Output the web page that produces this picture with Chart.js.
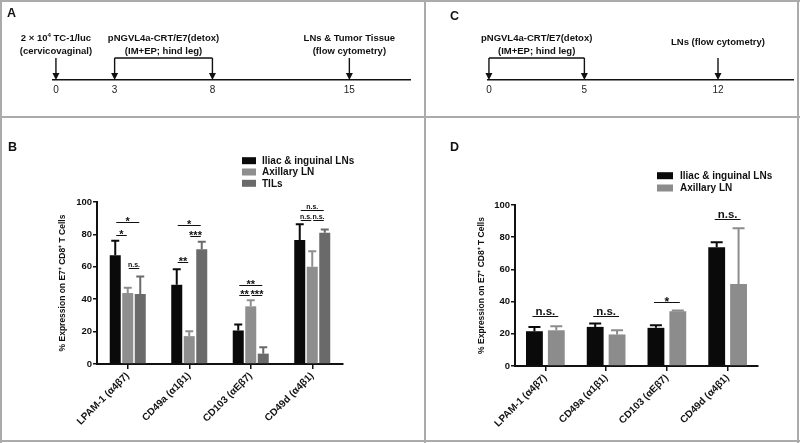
<!DOCTYPE html>
<html>
<head>
<meta charset="utf-8">
<script src="https://cdn.jsdelivr.net/npm/chart.js@4.4.1/dist/chart.umd.min.js"></script>
<style>
  html, body { margin: 0; padding: 0; background: #fff; }
  #fig { position: relative; width: 800px; height: 443px; overflow: hidden; font-family: 'Liberation Sans', Arial, sans-serif; }
  #fig canvas { position: absolute; }
  .rule { position: absolute; background: #ababab; z-index: 2; }
  .tag { position: absolute; font-weight: bold; font-size: 12.5px; line-height: 1; color: #111; }
</style>
</head>
<body>
<div id="fig">
  <canvas id="panelA" width="424" height="116" style="left:0;top:0"></canvas>
  <canvas id="panelC" width="375" height="116" style="left:425px;top:0"></canvas>
  <canvas id="panelB" width="425" height="324" style="left:0;top:117px"></canvas>
  <canvas id="panelD" width="375" height="324" style="left:425px;top:117px"></canvas>

  <div class="rule" style="left:0;top:0;width:800px;height:2px"></div>
  <div class="rule" style="left:0;top:440px;width:800px;height:2px"></div>
  <div class="rule" style="left:0;top:0;width:2px;height:443px"></div>
  <div class="rule" style="left:797px;top:0;width:2px;height:443px"></div>
  <div class="rule" style="left:0;top:116px;width:800px;height:2px"></div>
  <div class="rule" style="left:424px;top:0;width:2px;height:443px"></div>

  <div class="tag" style="left:7px;top:6.5px">A</div>
  <div class="tag" style="left:450px;top:10px">C</div>
  <div class="tag" style="left:8px;top:141px">B</div>
  <div class="tag" style="left:450px;top:141px">D</div>
</div>
<script>
const FONT = "'Liberation Sans', Arial, sans-serif";
Chart.defaults.font.family = FONT;
Chart.defaults.color = '#111';

// timelines (days after tumor challenge / first vaccination)
const daysA = [0, 3, 8, 15];
const groupsA = [[0], [3, 8], [15]];
const notesA = [['2 × 10^4 TC-1/luc', '(cervicovaginal)'], ['pNGVL4a-CRT/E7(detox)', '(IM+EP; hind leg)'], ['LNs & Tumor Tissue', '(flow cytometry)']];
const daysC = [0, 5, 12];
const groupsC = [[0, 5], [12]];
const notesC = [['pNGVL4a-CRT/E7(detox)', '(IM+EP; hind leg)'], ['LNs (flow cytometry)']];

// bar charts
const integrins = ['LPAM-1 (α4β7)', 'CD49a (α1β1)', 'CD103 (αEβ7)', 'CD49d (α4β1)'];
const yTicks = [0, 20, 40, 60, 80, 100];

const seriesB = ['Iliac & inguinal LNs', 'Axillary LN', 'TILs'];
const iliacB = [67.2, 48.9, 20.7, 76.5];
const iliacBErr = [8.9, 9.6, 3.7, 9.8];
const axillaryB = [43.8, 17.2, 35.6, 60.1];
const axillaryBErr = [3.3, 3.0, 3.7, 9.5];
const tilsB = [43.2, 70.8, 6.4, 81.0];
const tilsBErr = [10.8, 4.7, 4.0, 2.1];
// [category, from series, to series, level, label]
const sigB = [
  [0, 0, 2, 87.7, '*'], [0, 0, 1, 79.6, '*'], [0, 1, 2, 59.1, 'n.s.'],
  [1, 0, 2, 85.7, '*'], [1, 0, 1, 63.1, '**'], [1, 1, 2, 79.0, '***'],
  [2, 0, 2, 48.9, '**'], [2, 0, 1, 42.3, '**'], [2, 1, 2, 42.3, '***'],
  [3, 0, 2, 95.3, 'n.s.'], [3, 0, 1, 88.8, 'n.s.'], [3, 1, 2, 88.8, 'n.s.']
];

const seriesD = ['Iliac & inguinal LNs', 'Axillary LN'];
const iliacD = [21.6, 24.3, 23.7, 73.8];
const iliacDErr = [2.7, 2.1, 1.6, 3.1];
const axillaryD = [22.2, 19.6, 34.0, 50.9];
const axillaryDErr = [2.5, 2.6, 0.4, 34.7];
const sigD = [[0, 0, 1, 30.9, 'n.s.'], [1, 0, 1, 30.9, 'n.s.'], [2, 0, 1, 39.5, '*'], [3, 0, 1, 91.1, 'n.s.']];

// text with ^x superscripts, centred on cx
function richText(ctx, str, cx, y, size) {
  const parts = str.split(/\^(.)/);
  const big = 'bold ' + size + 'px ' + FONT, small = 'bold ' + (size * 0.65) + 'px ' + FONT;
  let w = 0;
  parts.forEach((p, i) => { ctx.font = i % 2 ? small : big; w += ctx.measureText(p).width; });
  let x = cx - w / 2;
  ctx.textAlign = 'left';
  parts.forEach((p, i) => {
    ctx.font = i % 2 ? small : big;
    ctx.fillText(p, x, i % 2 ? y - size * 0.4 : y);
    x += ctx.measureText(p).width;
  });
}

const timelinePlugin = {
  id: 'timeline',
  afterDraw(chart, args, opts) {
    const ctx = chart.ctx, xs = chart.scales.x, base = chart.chartArea.bottom;
    ctx.save();
    ctx.strokeStyle = '#111'; ctx.fillStyle = '#111'; ctx.lineWidth = 1.4;
    opts.groups.forEach((g, k) => {
      const px = g.map(d => xs.getPixelForValue(d));
      px.forEach(x => {
        ctx.beginPath(); ctx.moveTo(x, opts.top); ctx.lineTo(x, base - 6); ctx.stroke();
        ctx.beginPath(); ctx.moveTo(x - 3.5, base - 7); ctx.lineTo(x + 3.5, base - 7); ctx.lineTo(x, base); ctx.closePath(); ctx.fill();
      });
      if (px.length > 1) {
        ctx.beginPath(); ctx.moveTo(px[0], opts.top); ctx.lineTo(px[px.length - 1], opts.top); ctx.stroke();
      }
      const cx = (px[0] + px[px.length - 1]) / 2;
      const lines = opts.notes[k];
      const y0 = lines.length > 1 ? opts.textY : opts.textY + 3.5;
      lines.forEach((t, i) => richText(ctx, t, cx, y0 + i * 12.5, 9.5));
    });
    ctx.restore();
  }
};

function makeTimeline(id, days, groups, notes, o) {
  return new Chart(document.getElementById(id), {
    type: 'scatter',
    data: { datasets: [{ data: days.map(d => ({ x: d, y: 0 })), pointRadius: 0 }] },
    options: {
      responsive: false, animation: false, events: [],
      layout: { padding: { left: o.left, right: o.right, top: 10, bottom: 16 } },
      plugins: {
        legend: { display: false }, tooltip: { enabled: false },
        timeline: { groups: groups, notes: notes, top: 58, textY: 41 }
      },
      scales: {
        x: {
          type: 'linear', min: o.min, max: o.max,
          afterBuildTicks: s => { s.ticks = days.map(v => ({ value: v })); },
          afterFit: s => { s.height = 20; },
          grid: { display: false, drawTicks: false },
          border: { display: true, color: '#111', width: 1.5 },
          ticks: { font: { size: 10 }, color: '#222', padding: 4, maxRotation: 0 }
        },
        y: { display: false, min: 0, max: 1 }
      }
    },
    plugins: [timelinePlugin]
  });
}

const errorBarPlugin = {
  id: 'errorBars',
  afterDatasetsDraw(chart, args, opts) {
    const ctx = chart.ctx, ys = chart.scales.y;
    ctx.save();
    chart.data.datasets.forEach((ds, i) => {
      const meta = chart.getDatasetMeta(i);
      ctx.strokeStyle = ds.backgroundColor; ctx.lineWidth = 2;
      meta.data.forEach((bar, j) => {
        const top = ys.getPixelForValue(ds.data[j] + ds.errors[j]);
        ctx.beginPath();
        ctx.moveTo(bar.x, bar.y); ctx.lineTo(bar.x, top);
        ctx.moveTo(bar.x - opts.cap, top); ctx.lineTo(bar.x + opts.cap, top);
        ctx.stroke();
      });
    });
    ctx.restore();
  }
};

const sigPlugin = {
  id: 'sigBars',
  afterDatasetsDraw(chart, args, opts) {
    const ctx = chart.ctx, ys = chart.scales.y;
    ctx.save();
    ctx.strokeStyle = '#111'; ctx.fillStyle = '#111'; ctx.lineWidth = 1; ctx.textAlign = 'center';
    opts.pairs.forEach(([c, a, b, v, label]) => {
      const x1 = chart.getDatasetMeta(a).data[c].x + opts.inset;
      const x2 = chart.getDatasetMeta(b).data[c].x - opts.inset;
      const y = Math.round(ys.getPixelForValue(v)) + 0.5;
      ctx.beginPath(); ctx.moveTo(x1, y); ctx.lineTo(x2, y); ctx.stroke();
      const star = label.includes('*');
      const size = star ? opts.starSize : opts.nsSize;
      ctx.font = 'bold ' + size + 'px ' + FONT;
      ctx.fillText(label, (x1 + x2) / 2, star ? y + size * 0.25 : y - 2);
    });
    ctx.restore();
  }
};

const legendPlugin = {
  id: 'boxLegend',
  afterDraw(chart, args, opts) {
    const ctx = chart.ctx;
    ctx.save();
    ctx.textBaseline = 'middle'; ctx.textAlign = 'left';
    ctx.font = 'bold ' + opts.size + 'px ' + FONT;
    chart.data.datasets.forEach((ds, i) => {
      const y = opts.y + i * opts.step;
      ctx.fillStyle = ds.backgroundColor;
      ctx.fillRect(opts.x, y - opts.h / 2, opts.w, opts.h);
      ctx.fillStyle = '#111';
      ctx.fillText(ds.label, opts.x + opts.w + opts.gap, y + 0.5);
    });
    ctx.restore();
  }
};

function makeBars(id, datasets, sig, o) {
  return new Chart(document.getElementById(id), {
    type: 'bar',
    data: { labels: integrins, datasets: datasets },
    options: {
      responsive: false, animation: false, events: [],
      layout: { padding: { left: o.left, right: o.right, top: o.top, bottom: 0 } },
      datasets: { bar: { categoryPercentage: o.cat, barPercentage: o.bar } },
      plugins: {
        legend: { display: false }, tooltip: { enabled: false },
        errorBars: { cap: o.cap },
        sigBars: { pairs: sig, inset: o.inset, starSize: o.starSize, nsSize: o.nsSize },
        boxLegend: o.legend
      },
      scales: {
        x: {
          afterFit: s => { s.height = o.xHeight; },
          grid: { drawOnChartArea: false, offset: false, tickLength: 5, color: '#111', lineWidth: 1.5 },
          border: { color: '#111', width: 2 },
          ticks: { font: { size: 10, weight: 'bold' }, color: '#111', minRotation: 45, maxRotation: 45, autoSkip: false, padding: 1 }
        },
        y: {
          min: 0, max: 100,
          afterBuildTicks: s => { s.ticks = yTicks.map(v => ({ value: v })); },
          afterFit: s => { s.width = o.yWidth; },
          grid: { drawOnChartArea: false, tickLength: 4, color: '#111', lineWidth: 1.5 },
          border: { color: '#111', width: 2 },
          ticks: { font: { size: 9.5, weight: 'bold' }, color: '#111', padding: 1 },
          title: { display: true, text: '% Expression on E7⁺ CD8⁺ T Cells', font: { size: 8.5, weight: 'bold' }, color: '#111', padding: 0 }
        }
      }
    },
    plugins: [errorBarPlugin, sigPlugin, legendPlugin]
  });
}

makeTimeline('panelA', daysA, groupsA, notesA, { left: 53, right: 14, min: -0.15, max: 18.1 });
makeTimeline('panelC', daysC, groupsC, notesC, { left: 63, right: 7, min: -0.05, max: 15.93 });

makeBars('panelB', [
  { label: seriesB[0], data: iliacB, errors: iliacBErr, backgroundColor: '#0a0a0a' },
  { label: seriesB[1], data: axillaryB, errors: axillaryBErr, backgroundColor: '#8e8e8e' },
  { label: seriesB[2], data: tilsB, errors: tilsBErr, backgroundColor: '#6a6a6a' }
], sigB, {
  left: 58, yWidth: 39, right: 82, top: 85, xHeight: 77, cat: 0.61, bar: 0.88,
  cap: 4, inset: 1, starSize: 11, nsSize: 7,
  legend: { x: 242, y: 43.7, step: 11.3, w: 14, h: 7, size: 10, gap: 6 }
});

makeBars('panelD', [
  { label: seriesD[0], data: iliacD, errors: iliacDErr, backgroundColor: '#0a0a0a' },
  { label: seriesD[1], data: axillaryD, errors: axillaryDErr, backgroundColor: '#8c8c8c' }
], sigD, {
  left: 52, yWidth: 38, right: 42, top: 88, xHeight: 75, cat: 0.72, bar: 0.77,
  cap: 6, inset: -2, starSize: 12, nsSize: 11.5,
  legend: { x: 232, y: 58.7, step: 12.3, w: 16, h: 7, size: 10, gap: 7 }
});
</script>
</body>
</html>
